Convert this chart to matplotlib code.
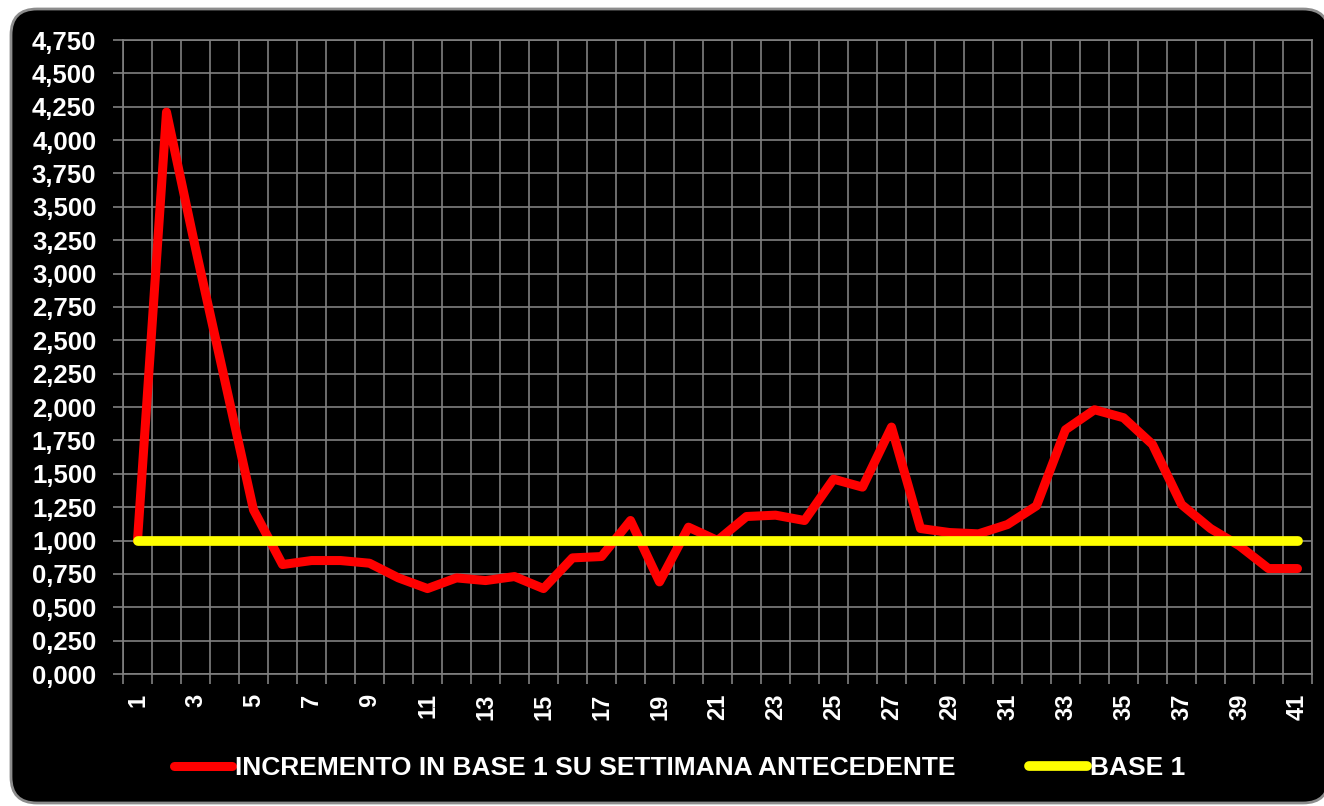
import matplotlib
matplotlib.use("Agg")
import matplotlib.pyplot as plt
import matplotlib.patches as mpatches
import matplotlib.transforms as mtransforms
from matplotlib.ticker import FuncFormatter, FixedLocator

# weekly increment (base 1) vs previous week
weeks = list(range(1, 42))
increment = [1.00, 4.21, 3.19, 2.21, 1.23, 0.82, 0.85, 0.85, 0.83, 0.72,
             0.64, 0.72, 0.70, 0.73, 0.64, 0.87, 0.88, 1.15, 0.69, 1.10,
             1.00, 1.18, 1.19, 1.15, 1.46, 1.40, 1.85, 1.09, 1.06, 1.05,
             1.12, 1.26, 1.83, 1.98, 1.92, 1.72, 1.27, 1.09, 0.96, 0.79,
             0.79]
base = [1.0] * len(weeks)
label_inc = "INCREMENTO IN BASE 1 SU SETTIMANA ANTECEDENTE"
label_base = "BASE 1"

FONT = "Liberation Sans"
W, H = 1324, 806

fig = plt.figure(figsize=(W / 100, H / 100), dpi=100, facecolor="white")

# rounded black panel behind everything
panel = mpatches.FancyBboxPatch((11, 3), 1318, 794,
                                boxstyle="round,pad=0,rounding_size=26",
                                facecolor="black", edgecolor="#8c8c8c",
                                linewidth=2, transform=mtransforms.IdentityTransform(),
                                zorder=-5)
fig.patches.append(panel)

ax = fig.add_axes([123 / W, 1 - 674 / H, 1189 / W, 634 / H])
ax.set_zorder(2)
ax.set_facecolor("black")

ax.plot(weeks, increment, color="#ff0000", lw=6.5, solid_capstyle="round",
        solid_joinstyle="round", label=label_inc, zorder=3)
ax.plot(weeks, base, color="#ffff00", lw=7, solid_capstyle="round",
        label=label_base, zorder=4)

ax.set_xlim(0.5, 41.5)
ax.set_ylim(0, 4.75)

yt = [i * 0.25 for i in range(20)]
ax.set_yticks(yt)
ax.yaxis.set_major_formatter(FuncFormatter(lambda v, p: f"{v:.3f}".replace(".", ",")))

ax.set_xticks(weeks[::2])
ax.set_xticklabels([str(w) for w in weeks[::2]], rotation=90)
ax.xaxis.set_minor_locator(FixedLocator([w - 0.5 for w in weeks] + [41.5]))

ax.grid(True, which="major", axis="y", color="#808080", lw=1.2)
ax.grid(True, which="minor", axis="x", color="#808080", lw=1.2)
ax.set_axisbelow(True)

ax.tick_params(axis="y", which="major", length=7.2, width=1.2, color="#808080",
               pad=12, labelcolor="white", labelsize=18.5)
ax.tick_params(axis="x", which="major", length=0, pad=14, labelcolor="white",
               labelsize=17)
ax.tick_params(axis="x", which="minor", length=7.2, width=1.2, color="#808080")
for lab in ax.get_yticklabels() + ax.get_xticklabels():
    lab.set_fontfamily(FONT)
    lab.set_fontweight("bold")
for lab in ax.get_xticklabels():
    lab.set_verticalalignment("top")

for s in ax.spines.values():
    s.set_color("#808080")
    s.set_linewidth(1.2)

leg = ax.legend(loc="center", bbox_to_anchor=(0.468, -0.148), ncol=2, frameon=False,
                handlelength=2.2, handletextpad=0.1, columnspacing=2.8,
                prop={"family": FONT, "weight": "bold", "size": 19})
for t in leg.get_texts():
    t.set_color("white")

fig.savefig("out.png", dpi=100, facecolor="white")
